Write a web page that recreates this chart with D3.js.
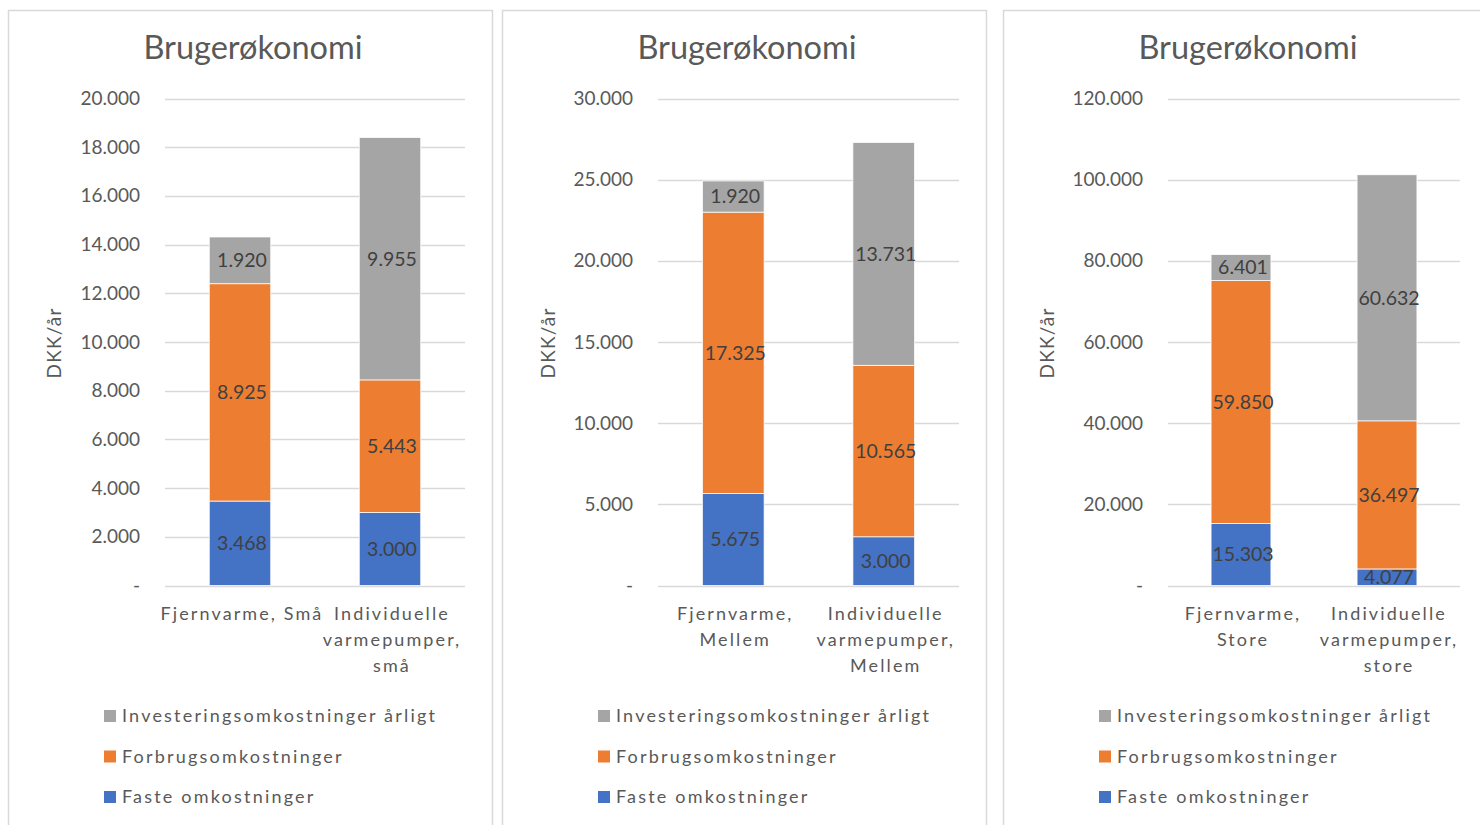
<!DOCTYPE html>
<html>
<head>
<meta charset="utf-8">
<script src="https://cdn.jsdelivr.net/npm/d3@7"></script>
<style>
  html, body { margin: 0; padding: 0; background: #fff; }
  svg { display: block; }
  text { font-family: Lato, "Open Sans", sans-serif; fill: #595959; }
</style>
</head>
<body>
<svg id="chart" width="1480" height="825"></svg>
<script>
// Brugerøkonomi: three stacked bar charts (small, medium, large consumers)
const chartTitle = "Brugerøkonomi";
const yAxisTitle = "DKK/år";

const categoryLines = [
  [["Fjernvarme, Små"], ["Individuelle", "varmepumper,", "små"]],
  [["Fjernvarme,", "Mellem"], ["Individuelle", "varmepumper,", "Mellem"]],
  [["Fjernvarme,", "Store"], ["Individuelle", "varmepumper,", "store"]]
];

const seriesNames = ["Faste omkostninger", "Forbrugsomkostninger", "Investeringsomkostninger årligt"];
const seriesColors = ["#4472c4", "#ed7d31", "#a5a5a5"];

const fasteOmk = [[3468, 3000], [5675, 3000], [15303, 4077]];
const forbrugOmk = [[8925, 5443], [17325, 10565], [59850, 36497]];
const investOmk = [[1920, 9955], [1920, 13731], [6401, 60632]];

const yMaxValues = [20000, 30000, 120000];
const yTickSteps = [2000, 5000, 20000];

const locale = d3.formatLocale({ decimal: ",", thousands: ".", grouping: [3], currency: ["", ""] });
const fmt = locale.format(",.0f");
const tickFmt = v => v === 0 ? "-" : fmt(v);

const svg = d3.select("#chart");

// panel frames and inner plot geometry
const panelX = [8, 502, 1003];
const panelW = 484;
const plotLeft = [157, 156, 165];
const plotRight = 457;
const plotTop = 98.5, plotBottom = 585.5;

panelX.forEach((px, p) => {
  const g = svg.append("g").attr("transform", `translate(${px},0)`);

  g.append("rect")
    .attr("x", 0.5).attr("y", 10.5)
    .attr("width", panelW).attr("height", 830)
    .attr("fill", "#fff").attr("stroke", "#d9d9d9").attr("stroke-width", 1.5);

  g.append("text")
    .attr("x", panelW / 2 + 3).attr("y", 59)
    .attr("text-anchor", "middle")
    .style("font-size", "32.5px")
    .text(chartTitle);

  const y = d3.scaleLinear().domain([0, yMaxValues[p]]).range([plotBottom, plotTop]);
  const x = d3.scaleBand().domain([0, 1]).range([plotLeft[p], plotRight]).paddingInner(0.59).paddingOuter(0.295);

  const ticks = d3.range(0, yMaxValues[p] + 1, yTickSteps[p]);

  // gridlines
  g.append("g")
    .selectAll("line").data(ticks).join("line")
    .attr("x1", plotLeft[p]).attr("x2", plotRight)
    .attr("y1", d => Math.round(y(d)) + 0.5).attr("y2", d => Math.round(y(d)) + 0.5)
    .attr("stroke", "#d9d9d9").attr("stroke-width", 1.5);

  // y axis tick labels
  const yAxis = d3.axisLeft(y).tickValues(ticks).tickFormat(tickFmt).tickSize(0).tickPadding(0);
  const ya = g.append("g").attr("transform", `translate(${plotLeft[p] - 25},0)`).call(yAxis);
  ya.select(".domain").remove();
  ya.selectAll("text")
    .style("font-size", "19px")
    .style("font-family", "Lato, sans-serif")
    .attr("fill", "#595959");

  g.append("text")
    .attr("transform", `translate(${p === 2 ? 51 : 53},343) rotate(-90)`)
    .attr("text-anchor", "middle")
    .style("font-size", "19px")
    .style("letter-spacing", "1.2px")
    .text(yAxisTitle);

  // stacked bars
  const rows = [0, 1].map(i => ({
    i,
    s0: fasteOmk[p][i], s1: forbrugOmk[p][i], s2: investOmk[p][i]
  }));
  const stack = d3.stack().keys(["s0", "s1", "s2"])(rows);

  stack.forEach((layer, k) => {
    g.append("g")
      .selectAll("rect").data(layer).join("rect")
      .attr("x", d => x(d.data.i))
      .attr("width", x.bandwidth())
      .attr("y", d => y(d[1]))
      .attr("height", d => y(d[0]) - y(d[1]))
      .attr("fill", seriesColors[k])
      .attr("stroke", "#fff").attr("stroke-width", 0.75);
  });

  stack.forEach((layer, k) => {
    g.append("g")
      .selectAll("text").data(layer).join("text")
      .attr("x", d => x(d.data.i) + x.bandwidth() / 2 + 2)
      .attr("y", d => (y(d[0]) + y(d[1])) / 2)
      .attr("dy", "0.35em")
      .attr("text-anchor", "middle")
      .style("font-size", "19.5px")
      .style("fill", "#404040")
      .text(d => fmt(d[1] - d[0]));
  });

  // category labels
  [0, 1].forEach(i => {
    const t = g.append("text")
      .attr("text-anchor", "middle")
      .style("font-size", "18px")
      .style("letter-spacing", "2.1px");
    categoryLines[p][i].forEach((line, j) => {
      t.append("tspan")
        .attr("x", x(i) + x.bandwidth() / 2 + 2)
        .attr("y", 620 + j * 26)
        .text(line);
    });
  });

  // legend
  const legendOrder = [2, 1, 0];
  const leg = g.append("g");
  legendOrder.forEach((k, r) => {
    const cy = 716 + r * 40.5;
    leg.append("rect")
      .attr("x", 96).attr("y", cy - 6)
      .attr("width", 12).attr("height", 12)
      .attr("fill", seriesColors[k]);
    leg.append("text")
      .attr("x", 114).attr("y", cy)
      .attr("dy", "0.35em")
      .style("font-size", "18px")
      .style("letter-spacing", "2.2px")
      .text(seriesNames[k]);
  });
});
</script>
</body>
</html>
